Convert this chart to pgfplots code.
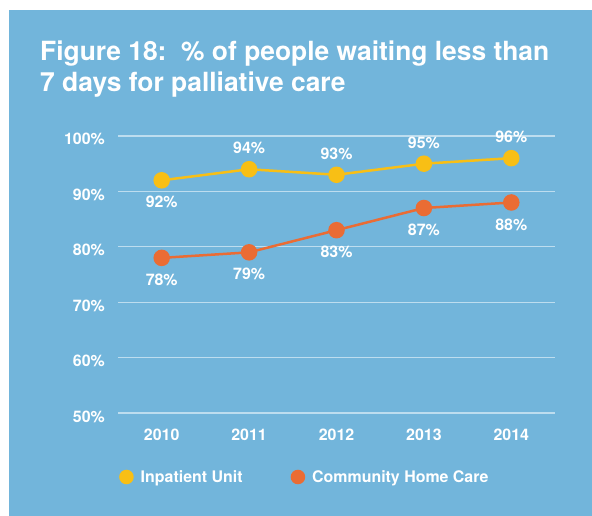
\documentclass[border=0pt]{standalone}
\usepackage{fontspec}
\setmainfont{TeX Gyre Heros}
\usepackage{pgfplots}
\pgfplotsset{compat=1.18}
\definecolor{bg}{HTML}{72B5DB}
\definecolor{inp}{HTML}{F8BF15}
\definecolor{com}{HTML}{EA6C34}
\definecolor{gridc}{HTML}{BDDDEF}
\newcommand{\lblfont}{\fontsize{16}{19}\selectfont\bfseries}
\begin{document}
\begin{tikzpicture}
\fill[white] (0bp,0bp) rectangle (592bp,516bp);
\fill[bg] (9bp,0bp) rectangle (592bp,506bp);
\node[anchor=base west, align=left, text=white, font=\fontsize{26.5}{32}\selectfont\bfseries, inner sep=0pt] at (40bp,424bp) {Figure 18:\ \ \% of people waiting less than\\7 days for palliative care};
\begin{axis}[
  at={(118bp,103bp)}, anchor=south west,
  scale only axis, width=437bp, height=277bp,
  xmin=-0.5, xmax=4.5, ymin=50, ymax=100,
  axis line style={draw=none},
  tick style={draw=none},
  ymajorgrids, grid style={gridc, line width=1.2bp},
  xtick={0,1,2,3,4}, xticklabels={2010,2011,2012,2013,2014},
  ytick={50,60,70,80,90,100},
  /pgf/number format/assume math mode=true,
  yticklabel={\pgfmathprintnumber{\tick}\%},
  yticklabel style={anchor=base east, inner sep=0pt, xshift=-13bp, yshift=-9bp, text=white, font=\lblfont},
  xticklabel style={anchor=base, inner sep=0pt, yshift=-27bp, text=white, font=\lblfont},
  clip=false,
  legend columns=2,
  legend image code/.code={\fill[#1] (0bp,0bp) circle (6bp);},
  legend style={at={(0.0023,-0.231)}, anchor=west, draw=none, fill=none, inner sep=0pt, text=white, font=\lblfont,
    /tikz/every odd column/.append style={column sep=5bp},
    /tikz/every even column/.append style={column sep=46bp}},
]
\addplot[inp, line width=2.5bp, mark=*, mark size=7bp] coordinates {(0,92)(1,94)(2,93)(3,95)(4,96)};
\addlegendentry{Inpatient Unit}
\addplot[com, line width=2.5bp, mark=*, mark size=7bp] coordinates {(0,78)(1,79)(2,83)(3,87)(4,88)};
\addlegendentry{Community Home Care}
% labels above
\addplot[draw=none, mark=none, forget plot, point meta=y,
  nodes near coords={\pgfmathprintnumber{\pgfplotspointmeta}\%},
  every node near coord/.append style={anchor=center, yshift=21bp, text=white, font=\lblfont}]
  coordinates {(1,94)(2,93)(3,95)(4,96)};
% labels below
\addplot[draw=none, mark=none, forget plot, point meta=y,
  nodes near coords={\pgfmathprintnumber{\pgfplotspointmeta}\%},
  every node near coord/.append style={anchor=center, yshift=-22bp, text=white, font=\lblfont}]
  coordinates {(0,92)(0,78)(1,79)(2,83)(3,87)(4,88)};
\end{axis}
\pgfresetboundingbox
\path[use as bounding box] (0bp,0bp) rectangle (592bp,516bp);
\end{tikzpicture}
\end{document}
